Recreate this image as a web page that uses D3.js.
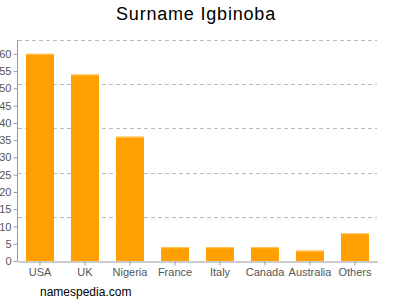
<!DOCTYPE html>
<html><head><meta charset="utf-8">
<script src="https://cdn.jsdelivr.net/npm/d3@7"></script>
<style>body{margin:0;background:#fff}svg{display:block}</style>
</head><body>
<svg id="c" width="400" height="300"></svg>
<script>
const categories = ["USA","UK","Nigeria","France","Italy","Canada","Australia","Others"];
const values = [60,54,36,4,4,4,3,8];
const yTicks = [0,5,10,15,20,25,30,35,40,45,50,55,60];
const gridValues = [12.8,25.6,38.4,51.2,64];

const svg = d3.select("#c");
const x = d3.scaleBand().domain(categories).range([17.5,377.5]).paddingInner(0.378).paddingOuter(0.189);
const y = d3.scaleLinear().domain([0,64]).range([261,40]);
const grey = "#555";

svg.append("text").attr("x",196).attr("y",20).attr("text-anchor","middle")
  .attr("font-family","Liberation Sans, Arial, sans-serif").attr("font-size",18)
  .attr("letter-spacing","0.8px").attr("fill","#000")
  .text("Surname Igbinoba");

svg.append("g").selectAll("line").data(gridValues).join("line")
  .attr("x1",18).attr("x2",377).attr("y1",d=>Math.round(y(d))+0.5).attr("y2",d=>Math.round(y(d))+0.5)
  .attr("stroke","#bbb").attr("stroke-dasharray","4,3");

svg.append("g").selectAll("rect").data(values).join("rect")
  .attr("x",(d,i)=>x(categories[i])).attr("width",x.bandwidth())
  .attr("y",d=>y(d)).attr("height",d=>y(0)-y(d)).attr("fill","#ffa000");
svg.append("g").selectAll("line").data(values).join("line")
  .attr("x1",(d,i)=>x(categories[i])).attr("x2",(d,i)=>x(categories[i])+x.bandwidth())
  .attr("y1",d=>y(d)+0.5).attr("y2",d=>y(d)+0.5).attr("stroke","#ffc766");

const ya = svg.append("g").attr("transform","translate(17.5,0)")
  .call(d3.axisLeft(y).tickValues(yTicks).tickSize(4).tickPadding(2).tickSizeOuter(0));
ya.select(".domain").attr("stroke","#999").attr("d","M0,40V261");
ya.selectAll(".tick line").attr("stroke","#999");
ya.selectAll("text").attr("fill",grey).attr("font-size",11).attr("font-family","Liberation Sans, Arial, sans-serif");

const xa = svg.append("g").attr("transform","translate(0,261.5)")
  .call(d3.axisBottom(x).tickSize(4).tickPadding(3).tickSizeOuter(0));
xa.select(".domain").attr("stroke","#999");
xa.selectAll(".tick line").attr("stroke","#999");
xa.selectAll("text").attr("fill",grey).attr("font-size",11).attr("font-family","Liberation Sans, Arial, sans-serif");

svg.append("text").attr("x",40).attr("y",296).attr("font-family","Liberation Sans, Arial, sans-serif")
  .attr("font-size",12).attr("fill","#000").text("namespedia.com");
</script>
</body></html>
